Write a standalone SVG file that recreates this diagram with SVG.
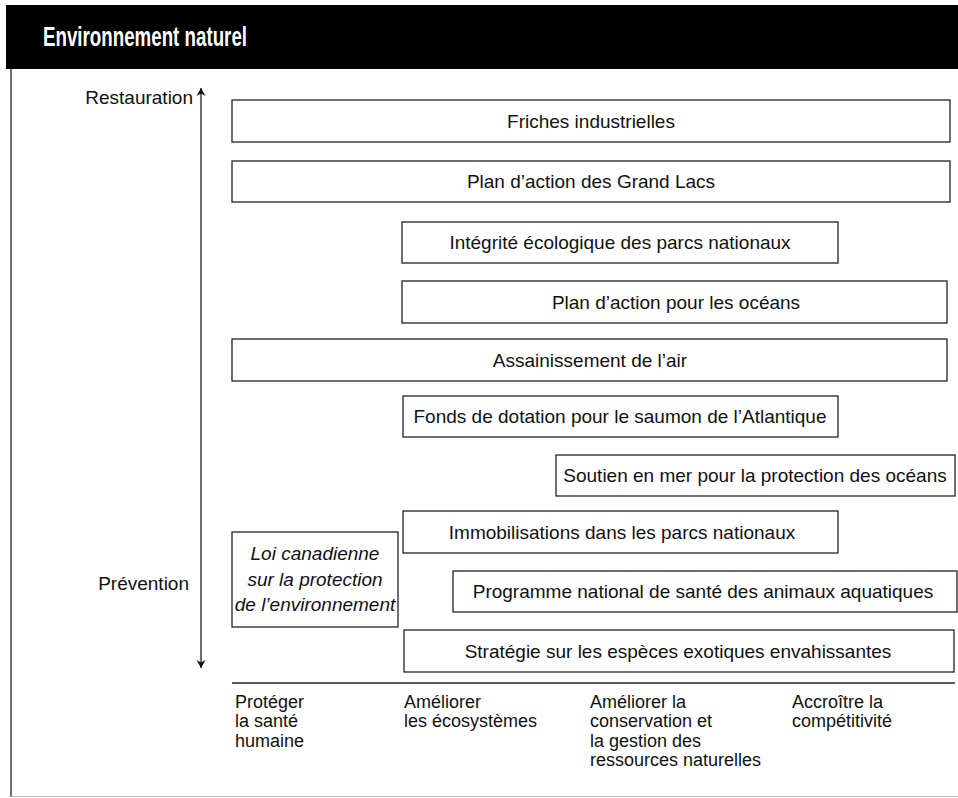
<svg xmlns="http://www.w3.org/2000/svg" width="958" height="798" viewBox="0 0 958 798">
<defs>
<style>
.box{fill:#fff;stroke:#222;stroke-width:1.3}
.t{font-family:"Liberation Sans",Arial,sans-serif;font-size:19px;fill:#111}
.l{font-family:"Liberation Sans",Arial,sans-serif;font-size:18px;fill:#111}
.c{text-anchor:middle}
.i{font-style:italic}
.ln{stroke:#222;stroke-width:1.3;fill:none}
</style>
<marker id="ah" viewBox="0 0 8 12" refX="8" refY="6" markerWidth="8" markerHeight="12" markerUnits="userSpaceOnUse" orient="auto">
<path d="M0,1.5 L8,6 L0,10.5 L2.5,6 Z" fill="#111"/>
</marker>
</defs>
<rect x="0" y="0" width="958" height="798" fill="#fff"/>
<g id="header">
<rect x="6" y="5" width="952" height="64" fill="#000"/>
<text x="43" y="46" font-family="'Liberation Sans',Arial,sans-serif" font-weight="bold" font-size="28" fill="#fff" textLength="204" lengthAdjust="spacingAndGlyphs">Environnement naturel</text>
</g>
<g id="frame">
<line class="ln" x1="11" y1="69" x2="11" y2="797"/>
<line x1="11" y1="796.5" x2="958" y2="796.5" stroke="#bbb" stroke-width="1"/>
</g>
<g id="connectors">
<line class="ln" x1="201" y1="420" x2="201" y2="88" marker-end="url(#ah)"/>
<line class="ln" x1="201" y1="420" x2="201" y2="668" marker-end="url(#ah)"/>
<line class="ln" x1="232" y1="683" x2="955" y2="683"/>
</g>
<g id="axis-labels">
<text class="t" x="193" y="104" text-anchor="end">Restauration</text>
<text class="t" x="189" y="590" text-anchor="end">Prévention</text>
</g>
<g id="n1"><rect class="box" x="232" y="100" width="718" height="42"/><text class="t c" x="591" y="128">Friches industrielles</text></g>
<g id="n2"><rect class="box" x="232" y="161" width="718" height="41"/><text class="t c" x="591" y="188">Plan d’action des Grand Lacs</text></g>
<g id="n3"><rect class="box" x="402" y="222" width="436" height="41"/><text class="t c" x="620" y="249">Intégrité écologique des parcs nationaux</text></g>
<g id="n4"><rect class="box" x="402" y="281" width="545" height="42"/><text class="t c" x="676" y="309">Plan d’action pour les océans</text></g>
<g id="n5"><rect class="box" x="232" y="339" width="715" height="42"/><text class="t c" x="590" y="367">Assainissement de l’air</text></g>
<g id="n6"><rect class="box" x="403" y="396" width="435" height="41"/><text class="t c" x="620" y="423">Fonds de dotation pour le saumon de l’Atlantique</text></g>
<g id="n7"><rect class="box" x="556" y="455" width="399" height="41"/><text class="t c" x="755" y="482">Soutien en mer pour la protection des océans</text></g>
<g id="n8"><rect class="box" x="403" y="511" width="435" height="42"/><text class="t c" x="622" y="539">Immobilisations dans les parcs nationaux</text></g>
<g id="n9"><rect class="box" x="232" y="532" width="166" height="95"/>
<text class="t c i" x="315" y="560">Loi canadienne</text>
<text class="t c i" x="315" y="586">sur la protection</text>
<text class="t c i" x="315" y="611">de l’environnement</text></g>
<g id="n10"><rect class="box" x="453" y="571" width="504" height="41"/><text class="t c" x="703" y="598">Programme national de santé des animaux aquatiques</text></g>
<g id="n11"><rect class="box" x="404" y="630" width="550" height="42"/><text class="t c" x="678" y="658">Stratégie sur les espèces exotiques envahissantes</text></g>
<g id="col1"><text class="l" x="235" y="708">Protéger</text><text class="l" x="235" y="727">la santé</text><text class="l" x="235" y="747">humaine</text></g>
<g id="col2"><text class="l" x="404" y="708">Améliorer</text><text class="l" x="404" y="727">les écosystèmes</text></g>
<g id="col3"><text class="l" x="590" y="708">Améliorer la</text><text class="l" x="590" y="727">conservation et</text><text class="l" x="590" y="747">la gestion des</text><text class="l" x="590" y="766">ressources naturelles</text></g>
<g id="col4"><text class="l" x="792" y="708">Accroître la</text><text class="l" x="792" y="727">compétitivité</text></g>
</svg>
